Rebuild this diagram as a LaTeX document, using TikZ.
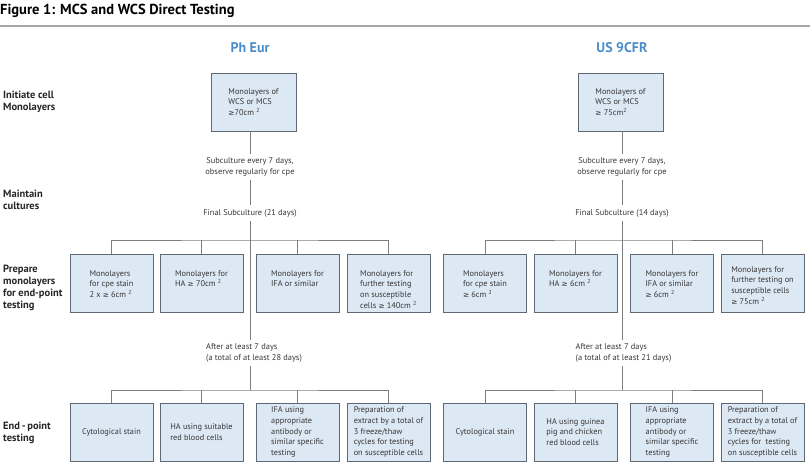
\documentclass[tikz,border=0pt]{standalone}
\usepackage{fontspec}
\setmainfont{PT Sans}
\newfontfamily\symfont{DejaVu Sans}
\usetikzlibrary{positioning}
\definecolor{hdblue}{RGB}{74,140,204}
\definecolor{boxfill}{RGB}{220,232,244}
\definecolor{boxline}{RGB}{95,105,115}
\definecolor{conn}{RGB}{125,125,125}
\definecolor{txt}{RGB}{55,55,55}
\newcommand{\sqcm}{cm \textsuperscript{2}}
\newcommand{\gq}{{\symfont\fontsize{7.3}{10}\selectfont ≥}}
% lines hung from the top of a box
\newcommand{\stack}[1]{\begin{tabular}[t]{@{}l@{}}#1\end{tabular}}

\begin{document}
\begin{tikzpicture}[x=1pt,y=-1pt,
 cell/.style={draw=boxline,fill=boxfill,minimum width=83pt,minimum height=58pt,
  inner xsep=4pt,inner ysep=2pt,text=txt,font=\fontsize{8.3}{10.8}\selectfont},
 box/.style={cell,align=left},
 upbox/.style={cell,inner ysep=4pt,text height=18pt,text depth=32pt},
 note/.style={align=center,text=txt,inner sep=4pt,font=\fontsize{8.4}{10.4}\selectfont},
 side/.style={anchor=west,align=left,inner sep=0pt,text=black!85,font=\bfseries\fontsize{10.5}{11.8}\selectfont},
 head/.style={text=hdblue,font=\bfseries\fontsize{14}{16}\selectfont},
 link/.style={draw=conn,line width=0.8pt}]
\useasboundingbox (0,0) rectangle (810,465);

% title and rule
\node[anchor=west,inner sep=0pt,font=\bfseries\fontsize{14.5}{16}\selectfont] (title) at (0,11) {Figure 1: MCS and WCS Direct Testing};
\draw[draw=black!35,line width=1.5pt] (0,26) -- (810,26);

\node[head] (pe) at (250,48) {Ph Eur};
\node[head] (us) at (622,48) {US 9CFR};

% stages
\node[side] (lab1) at (3,102) {Initiate cell\\Monolayers};
\node[side] (lab2) at (3,200) {Maintain\\cultures};
\node[side] (lab3) at (3,288) {Prepare\\monolayers\\for end-point\\testing};
\node[side] (lab4) at (3,433) {End\,-\,point\\testing};

% Ph Eur
\node[box,minimum width=85pt] (pe-top) at (253.5,102) {Monolayers of\\WCS or MCS\\\gq70\sqcm};
\node[note] (pe-sub) at (250,167) {Subculture every 7 days,\\observe regularly for cpe};
\node[note] (pe-fin) at (250,213) {Final Subculture (21 days)};
\coordinate (pe-split) at (250,240);
\node[upbox] (pe-a) at (111.5,283) {\stack{Monolayers\\for cpe stain\\2 x \gq\ 6\sqcm}};
\node[upbox] (pe-b) at (201.5,283) {\stack{Monolayers for\\HA \gq\ 70\sqcm}};
\node[upbox] (pe-c) at (297.5,283) {\stack{Monolayers for\\IFA or similar}};
\node[upbox] (pe-d) at (388.5,283) {\stack{Monolayers for\\further testing\\on susceptible\\cells \gq\ 140\sqcm}};
\node[note,align=left] (pe-wait) at (254,353) {After at least 7 days\\(a total of at least 28 days)};
\coordinate (pe-join) at (250,390);
\node[box] (pe-e) at (111.5,432) {Cytological stain};
\node[box] (pe-f) at (201.5,432) {HA using suitable\\red blood cells};
\node[box] (pe-g) at (297.5,432) {IFA using\\appropriate\\antibody or\\similar specific\\testing};
\node[box] (pe-h) at (388.5,432) {Preparation of\\extract by a total of\\3 freeze/thaw\\cycles for testing\\on susceptible cells};

% US 9CFR
\node[box,minimum width=85pt] (us-top) at (620.5,102) {Monolayers of\\WCS or MCS\\\gq\ 75cm\textsuperscript{2}};
\node[note] (us-sub) at (622,167) {Subculture every 7 days,\\observe regularly for cpe};
\node[note] (us-fin) at (622,213) {Final Subculture (14 days)};
\coordinate (us-split) at (622,240);
\node[upbox] (us-a) at (485,283) {\stack{Monolayers\\for cpe stain\\\gq\ 6\sqcm}};
\node[upbox] (us-b) at (575.5,283) {\stack{Monolayers for\\HA \gq\ 6\sqcm}};
\node[upbox] (us-c) at (672,283) {\stack{Monolayers for\\IFA or similar\\\gq\ 6\sqcm}};
\node[upbox,text height=14pt,text depth=36pt] (us-d) at (762.5,283) {\stack{Monolayers for\\further testing on\\susceptible cells\\\gq\ 75\sqcm}};
\node[note,align=left] (us-wait) at (623.5,353) {After at least 7 days\\(a total of at least 21 days)};
\coordinate (us-join) at (622,390);
\node[box] (us-e) at (485,432) {Cytological stain};
\node[box] (us-f) at (575.5,432) {HA using guinea\\pig and chicken\\red blood cells};
\node[box] (us-g) at (672,432) {IFA using\\appropriate\\antibody or\\similar specific\\testing};
\node[box] (us-h) at (762.5,432) {Preparation of\\extract by a total of\\3 freeze/thaw\\cycles for~ testing\\on susceptible cells};

% connectors
\foreach \s in {pe,us}{
 \draw[link] (\s-sub.north |- \s-top.south) -- (\s-sub);
 \draw[link] (\s-sub) -- (\s-fin);
 \draw[link] (\s-fin) -- (\s-fin |- \s-wait.north);
 \draw[link] (\s-a) |- (\s-split) -| (\s-d);
 \draw[link] (\s-fin |- \s-wait.south) -- (\s-join);
 \draw[link] (\s-e) |- (\s-join) -| (\s-h);
 \foreach \b in {b,c}
  \draw[link] (\s-\b) -- (\s-\b |- \s-split);
 \foreach \b in {f,g}
  \draw[link] (\s-\b) -- (\s-\b |- \s-join);
}
\end{tikzpicture}
\end{document}
